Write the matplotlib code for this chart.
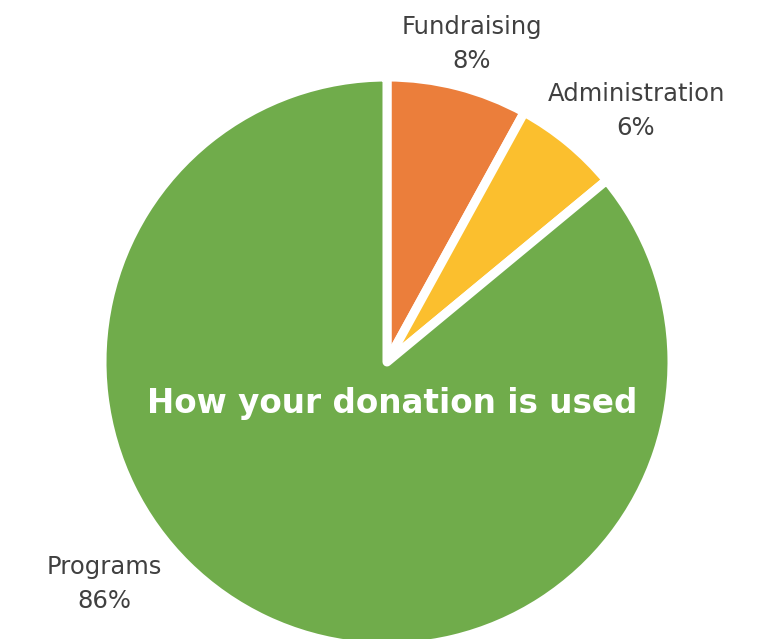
import matplotlib
matplotlib.use("Agg")
import matplotlib.pyplot as plt

# data (clockwise from 12 o'clock)
categories = ["Fundraising", "Administration", "Programs"]
shares = [8, 6, 86]
colors = ["#EB7E3B", "#FBBF2E", "#70AC4B"]
title = "How your donation is used"

W, H = 777, 639
fig = plt.figure(figsize=(W / 100, H / 100), dpi=100)
ax = fig.add_axes([0, 0, 1, 1])

cx, cy, r = 387, H - 362, 285
ax.pie(shares, colors=colors, startangle=90, counterclock=False,
       center=(cx, cy), radius=r, frame=True,
       wedgeprops=dict(edgecolor="white", linewidth=6.5, joinstyle="round"))
ax.set_xlim(0, W)
ax.set_ylim(0, H)
ax.set_aspect("equal")
ax.axis("off")

label_pos = {"Fundraising": (472, 27), "Administration": (636, 94), "Programs": (104, 567)}
font = ["DejaVu Sans"]
for name, val in zip(categories, shares):
    x, y = label_pos[name]
    ax.text(x, H - y, name, ha="center", va="center", fontsize=17.5,
            color="#404040", family=font)
    ax.text(x, H - y - 34, f"{val}%", ha="center", va="center", fontsize=17.5,
            color="#404040", family=font)

ax.text(392, H - 403, title, ha="center", va="center", fontsize=23.5,
        fontweight="bold", color="white", family=font)

fig.savefig("out.png", dpi=100)
